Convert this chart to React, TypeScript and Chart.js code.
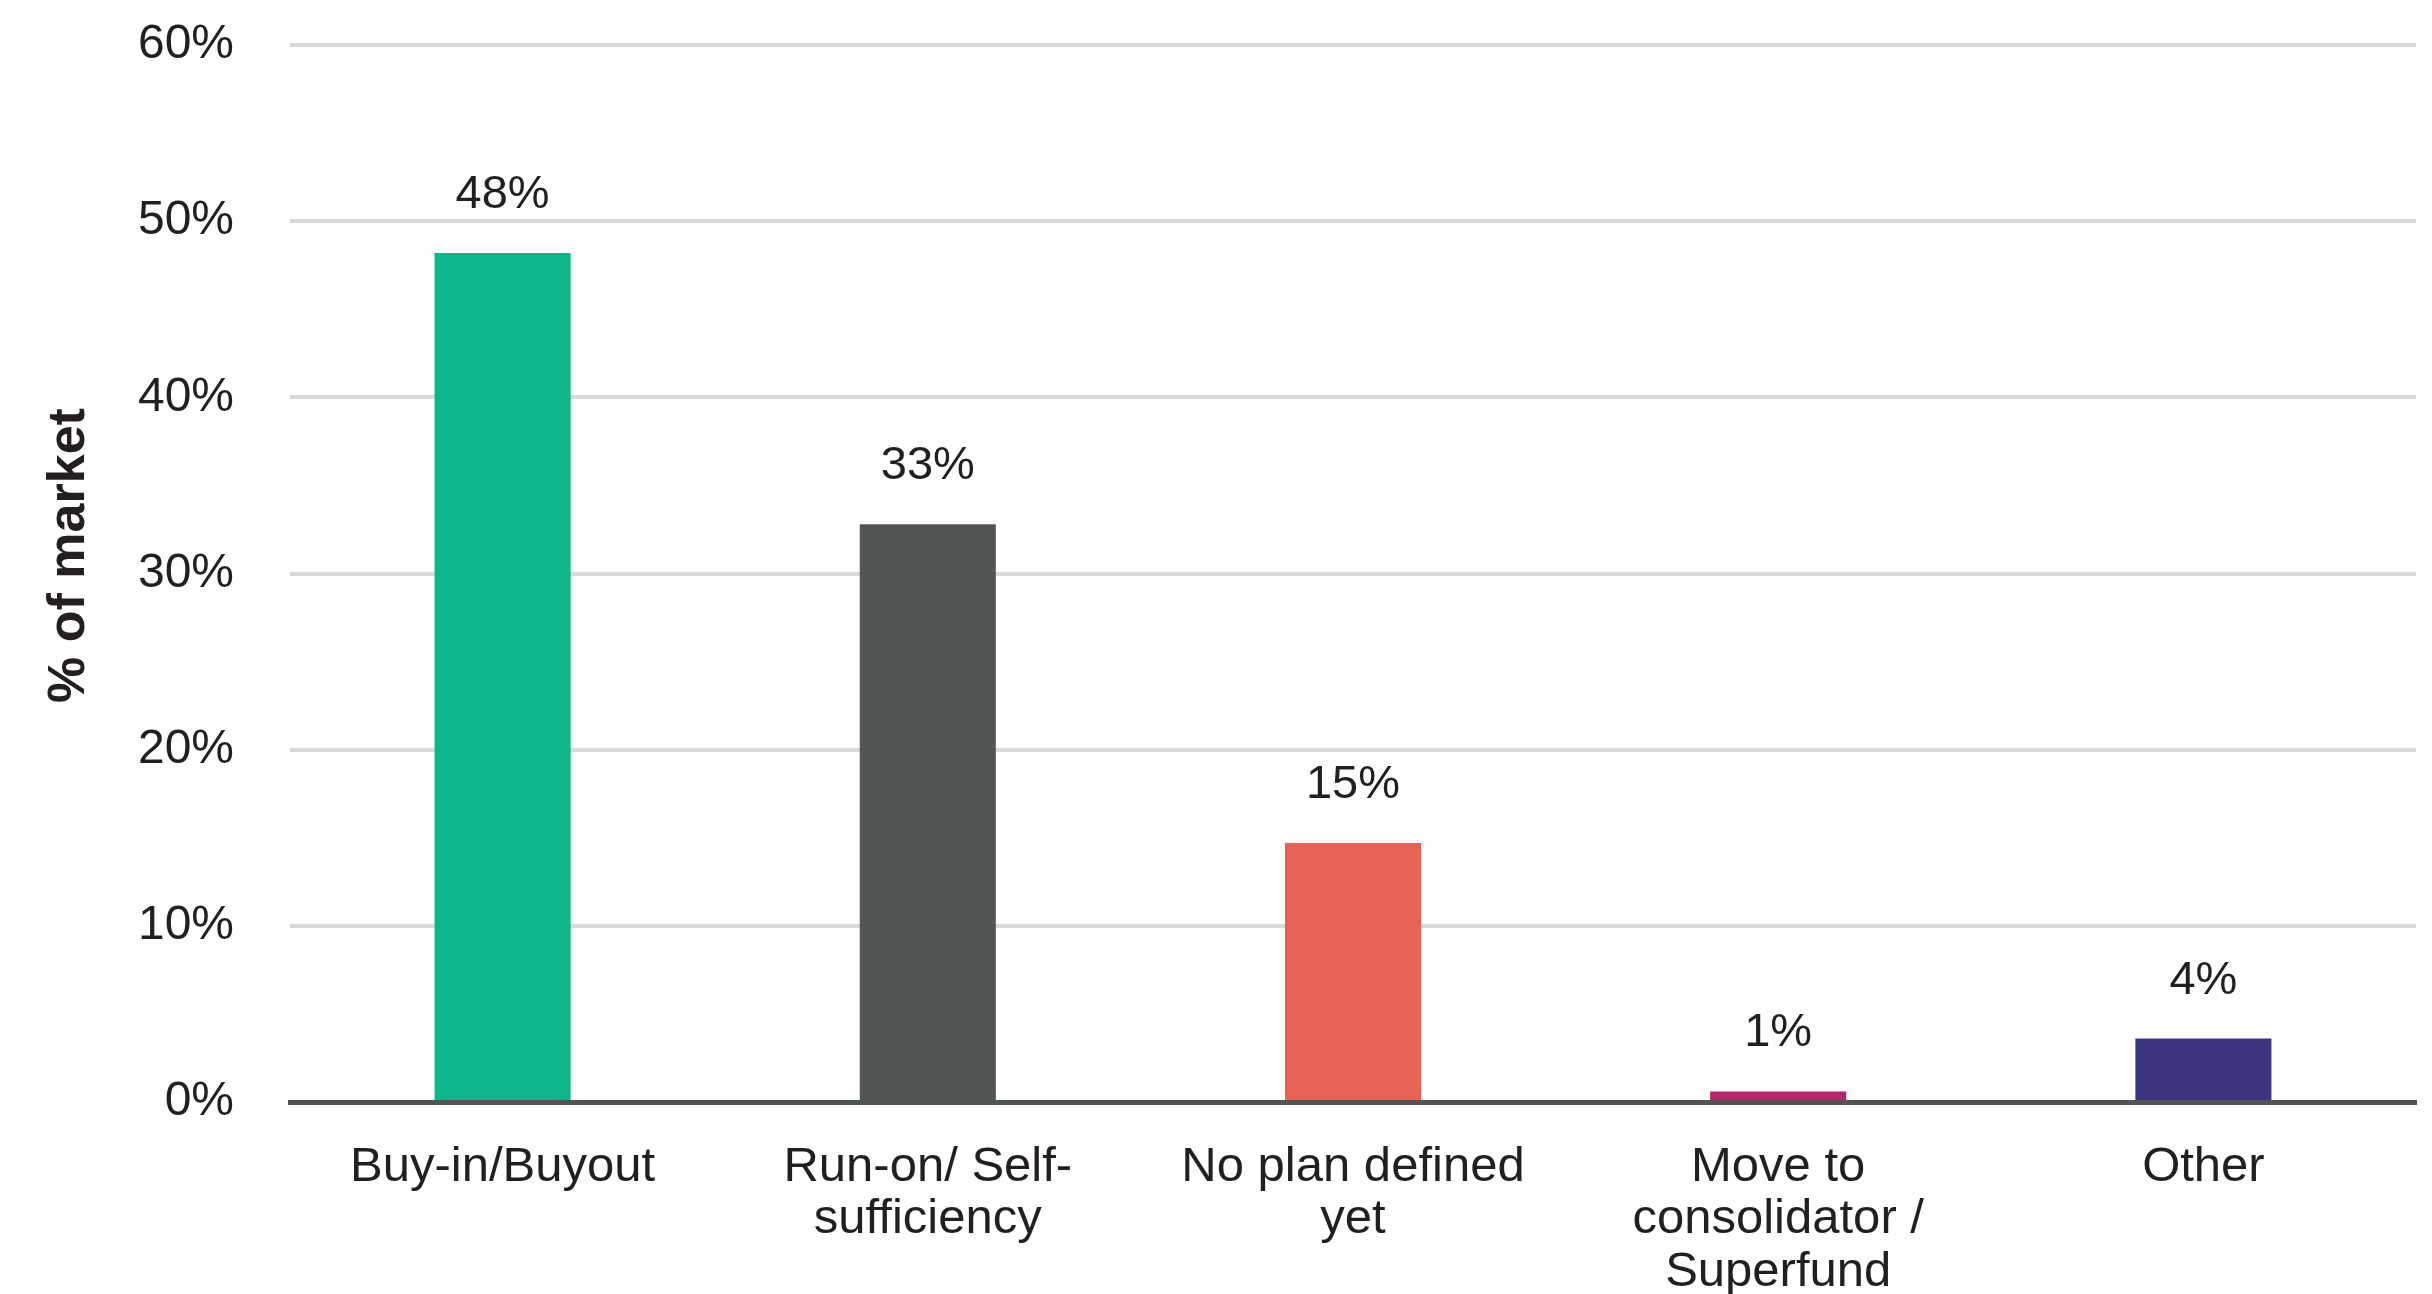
import React, { useEffect, useRef } from "react";
import { Chart, registerables } from "chart.js";

Chart.register(...registerables);

const categories: string[][] = [
  ["Buy-in/Buyout"],
  ["Run-on/ Self-", "sufficiency"],
  ["No plan defined", "yet"],
  ["Move to", "consolidator /", "Superfund"],
  ["Other"],
];
const values: number[] = [48.2, 32.8, 14.7, 0.6, 3.6];
const valueLabels: string[] = ["48%", "33%", "15%", "1%", "4%"];
const barColors: string[] = ["#0fb58b", "#515553", "#e66253", "#b4246f", "#3c3580"];
const yMin = 0;
const yMax = 60;
const yStep = 10;
const axisTitle = "% of market";

const FONT = "'Liberation Sans', Arial, sans-serif";
const TEXT = "#231f20";

const valueLabelPlugin = {
  id: "valueLabels",
  afterDatasetsDraw(chart: any) {
    const ctx = chart.ctx;
    const meta = chart.getDatasetMeta(0);
    ctx.save();
    ctx.font = `47px ${FONT}`;
    ctx.fillStyle = TEXT;
    ctx.textAlign = "center";
    ctx.textBaseline = "alphabetic";
    meta.data.forEach((bar: any, i: number) => {
      ctx.fillText(valueLabels[i], bar.x, bar.y - 45);
    });
    ctx.restore();
  },
};

const axisTitlePlugin = {
  id: "axisTitle",
  afterDraw(chart: any) {
    const ctx = chart.ctx;
    const area = chart.chartArea;
    ctx.save();
    ctx.font = `bold 52px ${FONT}`;
    ctx.fillStyle = TEXT;
    ctx.textAlign = "center";
    ctx.textBaseline = "middle";
    ctx.translate(70, (area.top + area.bottom) / 2 - 18);
    ctx.rotate(-Math.PI / 2);
    ctx.fillText(axisTitle, 0, 0);
    ctx.restore();
  },
};

export default function App() {
  const ref = useRef<HTMLCanvasElement | null>(null);

  useEffect(() => {
    if (!ref.current) return;
    const chart = new Chart(ref.current, {
      type: "bar",
      data: {
        labels: categories,
        datasets: [
          {
            data: values,
            backgroundColor: barColors,
            borderWidth: 0,
            barPercentage: 0.32,
            categoryPercentage: 1,
          },
        ],
      },
      options: {
        animation: false,
        responsive: true,
        maintainAspectRatio: false,
        layout: { padding: { left: 0, right: 16, top: 45, bottom: 0 } },
        plugins: {
          legend: { display: false },
          tooltip: { enabled: false },
        },
        scales: {
          x: {
            z: 1,
            grid: { display: false, drawTicks: false },
            border: { display: true, color: "#505553", width: 5 },
            ticks: {
              color: TEXT,
              font: { family: FONT, size: 49, lineHeight: 1.07 },
              padding: 39,
              maxRotation: 0,
              autoSkip: false,
            },
            afterFit(scale: any) {
              scale.height = 192;
            },
          },
          y: {
            min: yMin,
            max: yMax,
            grid: {
              color: (c: any) => (c.tick && c.tick.value === 0 ? "rgba(0,0,0,0)" : "#d9d9d9"),
              lineWidth: 4,
              drawTicks: false,
            },
            border: { display: false },
            ticks: {
              stepSize: yStep,
              color: TEXT,
              font: { family: FONT, size: 48 },
              padding: 56,
              callback: (v: any) => `${v}%`,
            },
            title: { display: false },
            afterFit(scale: any) {
              scale.width = 290;
              scale.paddingTop = 0;
              scale.paddingBottom = 0;
            },
          },
        },
      },
      plugins: [valueLabelPlugin, axisTitlePlugin],
    });
    return () => chart.destroy();
  }, []);

  return (
    <div style={{ position: "fixed", left: 0, top: 0, width: 2432, height: 1294, background: "#fff" }}>
      <canvas ref={ref} />
    </div>
  );
}
